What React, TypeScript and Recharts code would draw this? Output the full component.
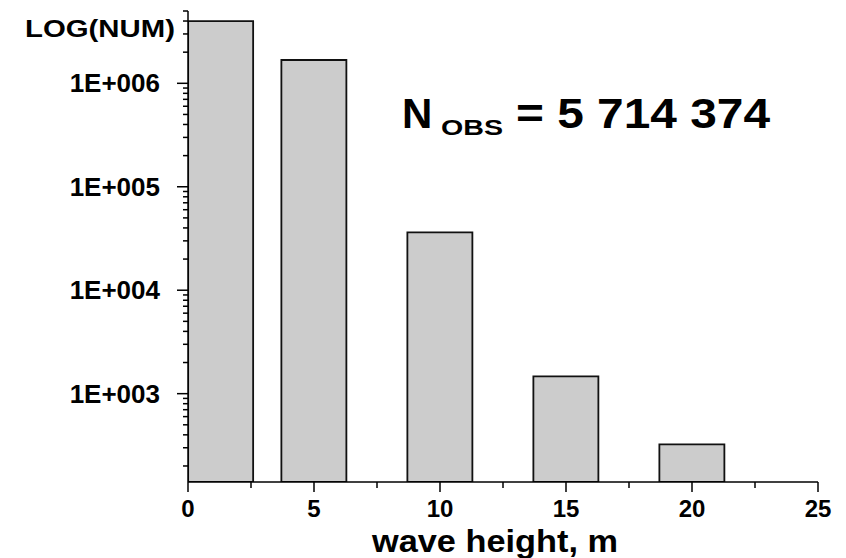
import React from "react";
import { ComposedChart, Bar, XAxis, YAxis, Label } from "recharts";

// wave height bins (bin centres, m) and observation counts
const binCentres = [1.3, 5, 10, 15, 20];
const counts = [3996000, 1680000, 36200, 1470, 323];

const xTicks = [0, 2.5, 5, 7.5, 10, 12.5, 15, 17.5, 20, 22.5, 25];
const xTickLabels = ["0", "", "5", "", "10", "", "15", "", "20", "", "25"];

const yDecades = [1e3, 1e4, 1e5, 1e6];
const yTickLabels = ["1E+003", "1E+004", "1E+005", "1E+006"];
const minorSteps = [2, 3, 4, 5, 6, 7, 8, 9];
const yMinorTicks = [
  ...[100, 1e3, 1e4, 1e5].flatMap((d) => minorSteps.map((m) => m * d)),
  2e6, 3e6, 4e6, 5e6,
].filter((v) => v >= 140);
const yTicks = [...yDecades, ...yMinorTicks].sort((a, b) => a - b);

const data = binCentres.map((x, i) => ({ x, count: counts[i] }));

const FONT = "'Liberation Sans', Arial, Helvetica, sans-serif";

function XTick(props: any) {
  const { x, y, payload } = props;
  const i = xTicks.indexOf(payload.value);
  const label = i >= 0 ? xTickLabels[i] : "";
  const major = label !== "";
  return (
    <g>
      <line x1={x} x2={x} y1={y} y2={y + (major ? 10 : 6)} stroke="#000" strokeWidth={1.5} />
      {major && (
        <text x={x} y={y + 35} textAnchor="middle" fontFamily={FONT} fontWeight="bold" fontSize={24} fill="#000">
          {label}
        </text>
      )}
    </g>
  );
}

function YTick(props: any) {
  const { x, y, payload } = props;
  const i = yDecades.indexOf(payload.value);
  const major = i >= 0;
  return (
    <g>
      <line x1={x} x2={x - (major ? 11 : 5)} y1={y} y2={y} stroke="#000" strokeWidth={1.5} />
      {major && (
        <text x={x - 28} y={y + 9} textAnchor="end" fontFamily={FONT} fontWeight="bold" fontSize={26} fill="#000">
          {yTickLabels[i]}
        </text>
      )}
    </g>
  );
}

function XTitle(props: any) {
  const { viewBox } = props;
  const cx = viewBox.x + viewBox.width / 2 - 8;
  return (
    <text x={cx} y={viewBox.y + 70} textAnchor="middle" fontFamily={FONT} fontWeight="bold" fontSize={32}
      textLength={246} lengthAdjust="spacingAndGlyphs" fill="#000">
      wave height, m
    </text>
  );
}

function YTitle(props: any) {
  const { viewBox } = props;
  return (
    <text x={viewBox.x + 25} y={viewBox.y + 26} fontFamily={FONT} fontWeight="bold" fontSize={24}
      textLength={150} lengthAdjust="spacingAndGlyphs" fill="#000">
      LOG(NUM)
    </text>
  );
}

function App() {
  return (
    <div style={{ position: "absolute", left: 0, top: 0, background: "#fff" }}>
      <ComposedChart width={846} height={558} data={data} margin={{ top: 11, right: 28, left: 0, bottom: 0 }}>
        <XAxis
          dataKey="x"
          type="number"
          domain={[0, 25]}
          ticks={xTicks}
          interval={0}
          height={76}
          tickSize={0}
          tickMargin={0}
          tickLine={false}
          tick={<XTick />}
          axisLine={{ stroke: "#000", strokeWidth: 1.5 }}
          allowDataOverflow
        >
          <Label content={<XTitle />} />
        </XAxis>
        <YAxis
          scale="log"
          domain={[140, 5e6]}
          ticks={yTicks}
          interval={0}
          width={188}
          tickSize={0}
          tickMargin={0}
          tickLine={false}
          tick={<YTick />}
          axisLine={{ stroke: "#000", strokeWidth: 1.5 }}
          allowDataOverflow
        >
          <Label content={<YTitle />} />
        </YAxis>
        <Bar
          dataKey="count"
          fill="#cccccc"
          stroke="#111"
          strokeWidth={1.8}
          barSize={65}
          isAnimationActive={false}
        />
        <text x={402} y={128} fontFamily={FONT} fontWeight="bold" fontSize={42} fill="#000">
          N
        </text>
        <text x={441} y={135} fontFamily={FONT} fontWeight="bold" fontSize={22} fill="#000"
          textLength={62} lengthAdjust="spacingAndGlyphs">
          OBS
        </text>
        <text x={516} y={128} fontFamily={FONT} fontWeight="bold" fontSize={42} fill="#000"
          textLength={254} lengthAdjust="spacingAndGlyphs">
          = 5 714 374
        </text>
      </ComposedChart>
    </div>
  );
}

export default App;
